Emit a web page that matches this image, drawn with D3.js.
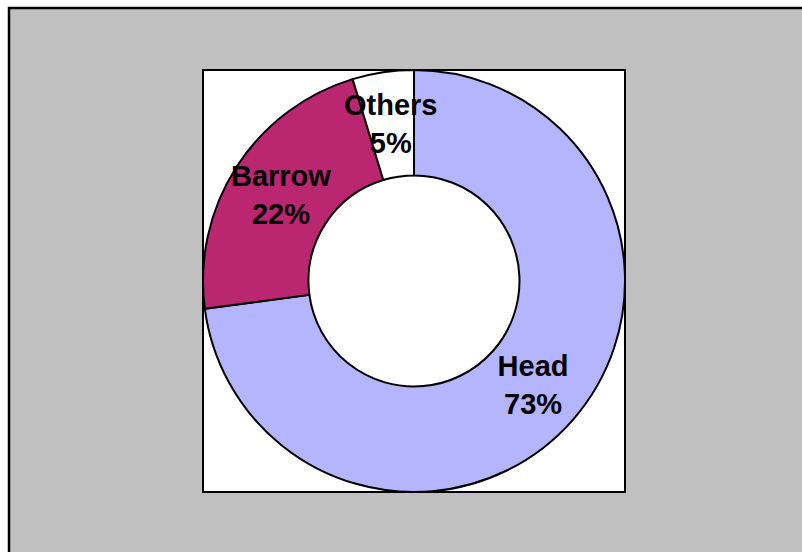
<!DOCTYPE html>
<html><head><meta charset="utf-8">
<script src="https://cdn.jsdelivr.net/npm/d3@7"></script>
<style>html,body{margin:0;padding:0;background:#fff;}svg{display:block;}</style>
</head><body>
<svg id="c" width="802" height="552"></svg>
<script>
const categories = ["Head", "Barrow", "Others"];
const values = [72.9, 22.4, 4.7];
const labels = ["73%", "22%", "5%"];
const colors = ["#B4B4FF", "#BA2770", "#FFFFFF"];

const svg = d3.select("#c");
svg.append("rect").attr("x", 0).attr("y", 0).attr("width", 802).attr("height", 552).attr("fill", "#fff");
svg.append("rect").attr("x", 9).attr("y", 8).attr("width", 820).attr("height", 580)
  .attr("fill", "#C0C0C0").attr("stroke", "#000").attr("stroke-width", 2.5);
svg.append("rect").attr("x", 203).attr("y", 70).attr("width", 422).attr("height", 422)
  .attr("fill", "#fff").attr("stroke", "#000").attr("stroke-width", 2);

const cx = 414, cy = 281, rOut = 211, rIn = 105.5;
const pie = d3.pie().sort(null).value(d => d)(values);
const arc = d3.arc().innerRadius(rIn).outerRadius(rOut);
const g = svg.append("g").attr("transform", `translate(${cx},${cy})`);
g.selectAll("path").data(pie).join("path")
  .attr("d", arc).attr("fill", (d, i) => colors[i])
  .attr("stroke", "#000").attr("stroke-width", 2).attr("stroke-linejoin", "round");

const lg = g.selectAll("text.l").data(pie).join("text")
  .attr("class", "l")
  .attr("font-family", "Liberation Sans, Arial, sans-serif")
  .attr("font-weight", "bold").attr("font-size", 29)
  .attr("text-anchor", "middle").attr("fill", "#000");
lg.each(function(d, i) {
  const [x, y] = arc.centroid(d);
  const t = d3.select(this);
  t.append("tspan").attr("x", x).attr("y", y - 9.5).text(categories[i]);
  t.append("tspan").attr("x", x).attr("y", y + 28.5).text(labels[i]);
});
</script>
</body></html>
